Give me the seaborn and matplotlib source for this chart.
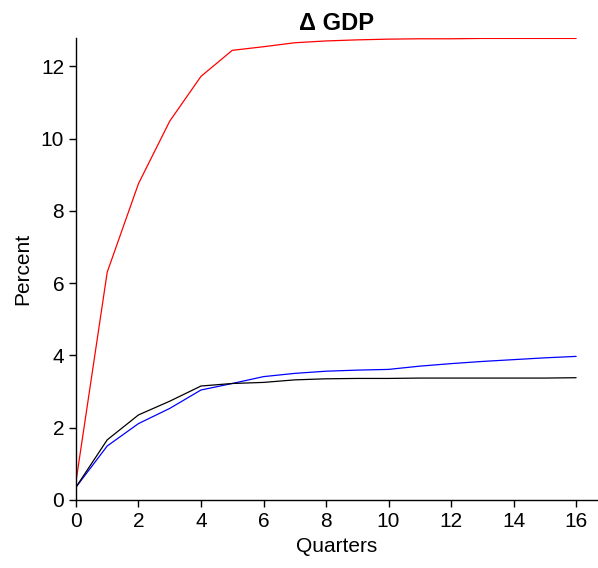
import pandas as pd
import seaborn as sns
from matplotlib import pyplot as plt

quarters = list(range(17))
red_series = [0.5, 6.3, 8.75, 10.48, 11.72, 12.44, 12.54, 12.65, 12.70, 12.73,
              12.75, 12.76, 12.76, 12.77, 12.77, 12.77, 12.77]
blue_series = [0.35, 1.49, 2.11, 2.53, 3.04, 3.22, 3.41, 3.50, 3.56, 3.59,
               3.61, 3.70, 3.77, 3.83, 3.88, 3.93, 3.97]
black_series = [0.35, 1.66, 2.35, 2.73, 3.15, 3.22, 3.25, 3.32, 3.35, 3.36,
                3.36, 3.37, 3.37, 3.37, 3.37, 3.37, 3.38]

df = pd.DataFrame({
    "Quarters": quarters * 3,
    "Percent": red_series + blue_series + black_series,
    "series": ["red"] * 17 + ["blue"] * 17 + ["black"] * 17,
})

sns.set_theme(style="ticks")
plt.rcParams["font.family"] = ["Liberation Sans", "DejaVu Sans"]
plt.rcParams["text.color"] = "black"
plt.rcParams["axes.labelcolor"] = "black"

fig = plt.figure(figsize=(5.98, 5.68), dpi=100)
ax = fig.add_axes([0.127, 0.12, 0.873, 0.813])
sns.lineplot(
    df,
    x="Quarters",
    y="Percent",
    hue="series",
    palette={"red": "#ff0000", "blue": "#0000ff", "black": "#000000"},
    linewidth=0.9,
    legend=False,
    ax=ax,
)
ax.set_xlim(0, 16.7)
ax.set_ylim(0, 12.78)
ax.set_xticks(range(0, 17, 2))
ax.set_yticks(range(0, 13, 2))
ax.tick_params(labelsize=15, length=5, width=1, color="black", labelcolor="black")
ax.tick_params(axis="x", pad=4)
ax.set_xlabel("Quarters", fontsize=15, labelpad=4, color="black")
ax.set_ylabel("Percent", fontsize=15, labelpad=6, color="black")
ax.set_title("Δ GDP", fontsize=17, fontweight="bold", pad=6, color="black")
for s in ["left", "bottom"]:
    ax.spines[s].set_color("black")
    ax.spines[s].set_linewidth(1)
sns.despine(ax=ax)
fig.savefig("out.png", dpi=100)
